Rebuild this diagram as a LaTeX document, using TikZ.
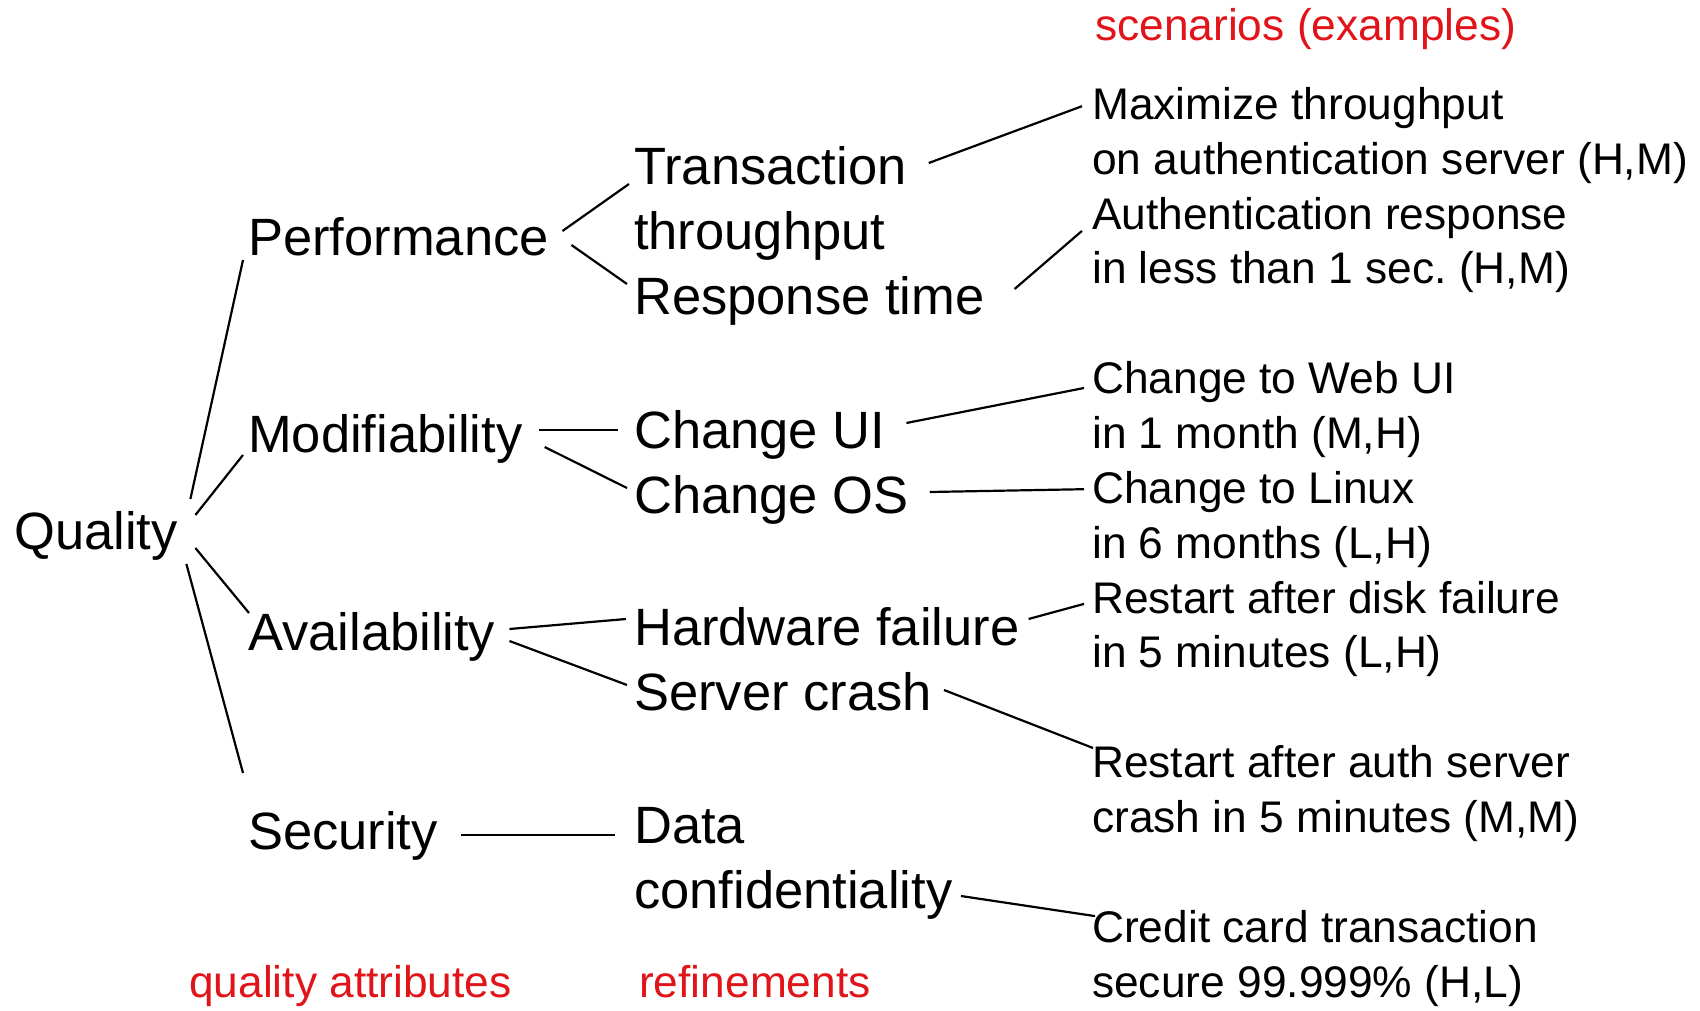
\documentclass[tikz,border=0pt]{standalone}
\usepackage{fontspec}
\setmainfont{Liberation Sans}
\frenchspacing
\definecolor{tagred}{RGB}{225,20,25}
\tikzset{
  bigtxt/.style={anchor=base west, inner sep=0pt, align=left, font=\fontsize{52.5}{65}\selectfont},
  smalltxt/.style={anchor=base west, inner sep=0pt, align=left, font=\fontsize{44.3}{54.86}\selectfont},
  tag/.style={smalltxt, text=tagred},
  link/.style={line width=2.2pt}
}

\begin{document}
\begin{tikzpicture}[x=1pt,y=-1pt]
\useasboundingbox (0,0) rectangle (1700,1011);
% root
\node[bigtxt] (Q) at (14,549) {Quality};
% quality attributes
\node[bigtxt] (P) at (248,255) {Performance};
\node[bigtxt] (M) at (248,452) {Modifiability};
\node[bigtxt] (A) at (248,650) {Availability};
\node[bigtxt] (S) at (248,849) {Security};
% refinements (multi-line nodes sit on their last line)
\node[bigtxt] (TT) at (634,249) {Transaction\\throughput};
\node[bigtxt] (RT) at (634,314) {Response time};
\node[bigtxt] (CU) at (634,448) {Change UI};
\node[bigtxt] (CO) at (634,513) {Change OS};
\node[bigtxt] (HF) at (634,645) {Hardware failure};
\node[bigtxt] (SC) at (634,710) {Server crash};
\node[bigtxt] (DC) at (634,908) {Data\\confidentiality};
% scenarios
\node[smalltxt] (s1) at (1092,174.2) {Maximize throughput\\on authentication server (H,M)};
\node[smalltxt] (s2) at (1092,283.9) {Authentication response\\in less than 1 sec. (H,M)};
\node[smalltxt] (s3) at (1092,448.5) {Change to Web UI\\in 1 month (M,H)};
\node[smalltxt] (s4) at (1092,558.2) {Change to Linux\\in 6 months (L,H)};
\node[smalltxt] (s5) at (1092,667.9) {Restart after disk failure\\in 5 minutes (L,H)};
\node[smalltxt] (s6) at (1092,832.5) {Restart after auth server\\crash in 5 minutes (M,M)};
\node[smalltxt] (s7) at (1092,997.1) {Credit card transaction\\secure 99.999\% (H,L)};
% column titles
\node[tag] (t1) at (1095,41) {scenarios (examples)};
\node[tag] (t2) at (189,997) {quality attributes};
\node[tag] (t3) at (639,997) {refinements};

\draw[link] ([shift={(12.6,-50)}]Q.base east) -- ([shift={(-5,5)}]P.base west);
\draw[link] ([shift={(17.6,-34)}]Q.base east) -- ([shift={(-5,3)}]M.base west);
\draw[link] ([shift={(17.6,-1)}]Q.base east) -- ([shift={(1,-37)}]A.base west);
\draw[link] ([shift={(8.6,15)}]Q.base east) -- ([shift={(-5,-76)}]S.base west);

\draw[link] ([shift={(13.5,-24)}]P.base east) -- ([shift={(-5,-65)}]TT.base west);
\draw[link] ([shift={(22.5,-10)}]P.base east) -- ([shift={(-7,-30)}]RT.base west);
\draw[link] ([shift={(16,-22)}]M.base east) -- ([shift={(-16,-18)}]CU.base west);
\draw[link] ([shift={(22,-5)}]M.base east) -- ([shift={(-7,-25)}]CO.base west);
\draw[link] ([shift={(14,-21)}]A.base east) -- ([shift={(-8,-26)}]HF.base west);
\draw[link] ([shift={(14,-9)}]A.base east) -- ([shift={(-7,-25)}]SC.base west);
\draw[link] ([shift={(23,-14)}]S.base east) -- ([shift={(-19,-73)}]DC.base west);

\draw[link] ([shift={(22,-86)}]TT.base east) -- ([shift={(-10,-68)}]s1.base west);
\draw[link] ([shift={(30,-25)}]RT.base east) -- ([shift={(-10,-53)}]s2.base west);
\draw[link] ([shift={(21,-25)}]CU.base east) -- ([shift={(-8,-60.5)}]s3.base west);
\draw[link] ([shift={(21,-21)}]CO.base east) -- ([shift={(-8,-69)}]s4.base west);
\draw[link] ([shift={(9,-26)}]HF.base east) -- ([shift={(-8,-64)}]s5.base west);
\draw[link] ([shift={(12,-20)}]SC.base east) -- ([shift={(1,-84.5)}]s6.base west);
\draw[link] ([shift={(8.5,-12)}]DC.base east) -- ([shift={(3,-81)}]s7.base west);
\end{tikzpicture}
\end{document}
